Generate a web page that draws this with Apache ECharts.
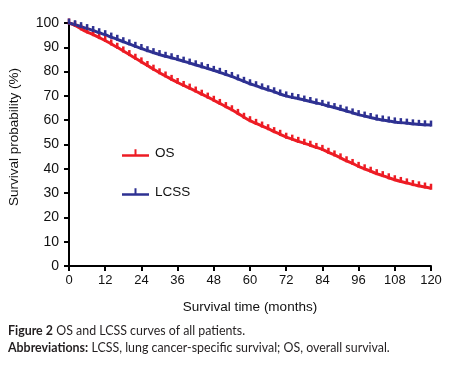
<!DOCTYPE html>
<html>
<head>
<meta charset="utf-8">
<script src="https://cdn.jsdelivr.net/npm/echarts@6/dist/echarts.min.js"></script>
<style>
html,body{margin:0;padding:0;background:#fff;}
#chart{width:453px;height:365px;}
</style>
</head>
<body>
<div id="chart"></div>
<script>
const months = [0,2,4,6,8,10,12,14,16,18,20,22,24,26,28,30,32,34,36,38,40,42,44,46,48,50,52,54,56,58,60,62,64,66,68,70,72,74,76,78,80,82,84,86,88,90,92,94,96,98,100,102,104,106,108,110,112,114,116,118,120];
const osValues = [100,99,97.6,96.3,95.2,94,92.8,91.4,90,88.5,87,85.5,84,82.5,81,79.5,78.2,76.8,75.5,74.3,73.2,72,70.7,69.5,68.2,66.9,65.6,64.3,62.8,61.2,59.8,58.7,57.6,56.5,55.3,54.2,53,52.2,51.3,50.5,49.7,48.8,48,46.8,45.7,44.5,43.3,42.2,41,40,39,38,37.2,36.3,35.5,34.8,34.2,33.5,33,32.5,32];
const lcssValues = [100,99.3,98.5,97.7,96.9,96,95.2,94.2,93.3,92.3,91.4,90.4,89.5,88.6,87.8,87,86.3,85.7,85,84.3,83.5,82.8,82,81.3,80.5,79.7,78.8,78,77,76,75,74.2,73.3,72.5,71.7,70.8,70,69.4,68.9,68.3,67.7,67.1,66.5,65.8,65.2,64.5,63.8,63,62.3,61.7,61.1,60.5,60.1,59.7,59.3,59,58.8,58.5,58.3,58.1,58];
const xTicks = [0,12,24,36,48,60,72,84,96,108,120];
const seriesNames = ['OS','LCSS'];
const seriesColors = ['#ed1c24','#2e3192'];

const chart = echarts.init(document.getElementById('chart'), null, {renderer:'canvas'});
const tickIcon = 'path://M0,6 L27,6 L27,8.4 L0,8.4 Z M12.5,1 L14.5,1 L14.5,6 L12.5,6 Z';
function mk(name, vals, color){
  return {
    name: name, type:'line',
    data: months.map((m,i)=>[m, vals[i]]),
    smooth: 0.3,
    lineStyle:{color:color, width:3},
    itemStyle:{color:color},
    symbol:'rect', symbolSize:[2.5,6], symbolOffset:[0,-1.5],
    showSymbol:true, animation:false, silent:true
  };
}
chart.setOption({
  animation:false,
  grid:{left:69, right:22, top:23, bottom:99, containLabel:false},
  legend:{
    orient:'vertical', left:117, top:141, itemGap:25, itemWidth:27, itemHeight:9,
    data:[{name:'OS', icon:tickIcon},{name:'LCSS', icon:tickIcon}],
    textStyle:{fontFamily:'Liberation Sans, Arial', fontSize:13.5, color:'#111', padding:[0,0,0,1]}
  },
  xAxis:{
    type:'value', min:0, max:120, interval:12,
    name:'Survival time (months)', nameLocation:'middle', nameGap:34,
    nameTextStyle:{fontFamily:'Liberation Sans, Arial', fontSize:13.5, color:'#111'},
    axisLine:{lineStyle:{color:'#000', width:2}},
    axisTick:{show:true, length:5, lineStyle:{color:'#000', width:2}},
    axisLabel:{fontFamily:'Liberation Sans, Arial', fontSize:13, color:'#111', margin:8,
      formatter: v => xTicks.includes(v) ? String(v) : ''},
    splitLine:{show:false}
  },
  yAxis:{
    type:'value', min:0, max:100, interval:10,
    axisLine:{show:true, lineStyle:{color:'#000', width:2}},
    axisTick:{show:true, length:5, lineStyle:{color:'#000', width:2}},
    axisLabel:{fontFamily:'Liberation Sans, Arial', fontSize:14, color:'#111', margin:10},
    splitLine:{show:false}
  },
  graphic:[
    {type:'text', x:14, y:137, rotation:Math.PI/2,
     style:{text:'Survival probability (%)', font:'13.5px "Liberation Sans", Arial', fill:'#111', align:'center', verticalAlign:'middle'}},
    {type:'text', left:8, top:325,
     style:{rich:{b:{font:'bold 12.4px Lato', fill:'#231f20'}, n:{font:'12.4px Lato', fill:'#231f20'}},
            text:'{b|Figure 2} {n|OS and LCSS curves of all patients.}'}},
    {type:'text', left:8, top:342,
     style:{rich:{b:{font:'bold 12.4px Lato', fill:'#231f20'}, n:{font:'12.4px Lato', fill:'#231f20'}},
            text:'{b|Abbreviations:} {n|LCSS, lung cancer-specific survival; OS, overall survival.}'}}
  ],
  series:[mk(seriesNames[0], osValues, seriesColors[0]), mk(seriesNames[1], lcssValues, seriesColors[1])]
});
</script>
</body>
</html>
